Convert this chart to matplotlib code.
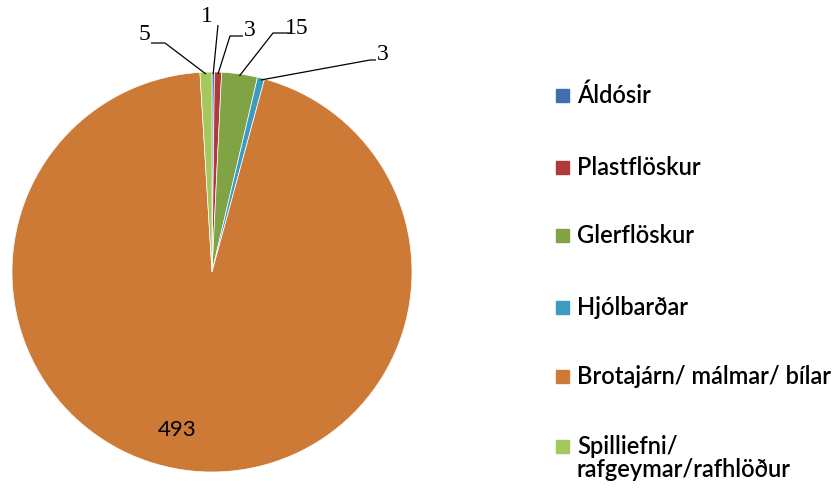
import numpy as np
import matplotlib.pyplot as plt
from matplotlib.patches import Rectangle

# Gögn
flokkar = ['Áldósir', 'Plastflöskur', 'Glerflöskur', 'Hjólbarðar',
           'Brotajárn/ málmar/ bílar', 'Spilliefni/\nrafgeymar/rafhlöður']
gildi = [1, 3, 15, 3, 493, 5]
litir = ['#3F6FAE', '#B03A3A', '#7FA345', '#3A9CC0', '#CD7A36', '#A4C85B']

W, H = 834, 491
fig = plt.figure(figsize=(W / 100, H / 100), dpi=100)
# kakan: miðja (212, 272) px, radíus 200 px
ax = fig.add_axes([12 / W, (H - 472) / H, 400 / W, 400 / H])

wedges, _ = ax.pie(gildi, colors=litir, startangle=90, counterclock=False,
                   radius=1, wedgeprops=dict(linewidth=0.5, edgecolor='white'))
ax.set_xlim(-1, 1)
ax.set_ylim(-1, 1)
ax.set_aspect('equal')
ax.axis('off')

# merkingar: (staða texta, olnbogi línu)
merki_stada = {
    0: ((-0.025, 1.275), (0.03, 1.235)),
    1: ((0.19, 1.21), (0.09, 1.18)),
    2: ((0.425, 1.22), (0.305, 1.195)),
    3: ((0.855, 1.085), (0.79, 1.06)),
    5: ((-0.34, 1.185), (-0.235, 1.145)),
}
for i, ((tx, ty), (ex, ey)) in merki_stada.items():
    w = wedges[i]
    mid = np.deg2rad((w.theta1 + w.theta2) / 2)
    px, py = np.cos(mid) * 0.99, np.sin(mid) * 0.99
    bx = tx + (0.035 if ex > tx else -0.035) if i != 0 else ex
    ax.plot([bx, ex, px], [ey, ey, py], color='black', lw=0.9,
            clip_on=False, solid_capstyle='butt')
    ax.text(tx, ty, str(gildi[i]), fontsize=17, family='Liberation Serif',
            ha='center', va='center', clip_on=False)
ax.text(-0.175, -0.79, str(gildi[4]), fontsize=16, family='Lato',
        ha='center', va='center')

# skýringar
rodir_y = [95, 167, 235, 307, 376, 446]
for nafn, litur, y in zip(flokkar, litir, rodir_y):
    fy = 1 - y / H
    fig.patches.append(Rectangle((556 / W, fy - 6.5 / H), 13 / W, 13 / H,
                                 transform=fig.transFigure, color=litur))
    fig.text(577 / W, fy + 11 / H, nafn, fontsize=17, family='Lato',
             fontweight='semibold', va='top', ha='left', linespacing=1.0)

fig.savefig('out.png', dpi=100)
